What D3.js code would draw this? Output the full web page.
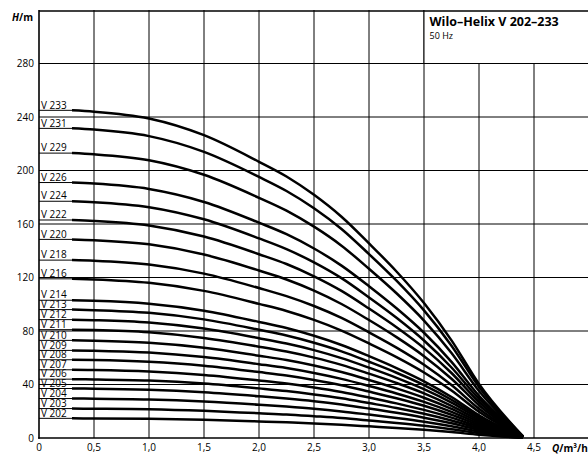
<!DOCTYPE html>
<html>
<head>
<meta charset="utf-8">
<script src="https://cdn.jsdelivr.net/npm/d3@7"></script>
<style>
  html, body { margin: 0; padding: 0; background: #fff; }
  svg { display: block; }
  text { font-family: "Open Sans", "DejaVu Sans", sans-serif; fill: #000; }
</style>
</head>
<body>
<div id="chart"></div>
<script>
// ---- data ----
const flowQ = [0.3, 0.5, 1.0, 1.5, 2.0, 2.25, 2.5, 2.75, 3.0, 3.25, 3.5, 3.75, 4.0, 4.4];

const headV233 = [245, 244.0, 238.9, 226.4, 206.5, 195.5, 181.8, 165.4, 145.5, 124.5, 100.9, 73.0, 40.4, 1.2];
const headV231 = [231.5, 230.6, 225.7, 213.9, 195.2, 184.7, 171.8, 156.3, 137.5, 117.6, 95.4, 69.0, 38.2, 1.2];
const headV229 = [213, 212.1, 207.7, 196.8, 179.6, 170.0, 158.0, 143.8, 126.5, 108.2, 87.8, 63.5, 35.1, 1.1];
const headV226 = [191, 190.2, 186.2, 176.5, 161.0, 152.4, 141.7, 128.9, 113.5, 97.0, 78.7, 56.9, 31.5, 1.0];
const headV224 = [177, 176.3, 172.6, 163.5, 149.2, 141.2, 131.3, 119.5, 105.1, 89.9, 72.9, 52.7, 29.2, 0.9];
const headV222 = [163, 162.3, 158.9, 150.6, 137.4, 130.1, 120.9, 110.0, 96.8, 82.8, 67.2, 48.6, 26.9, 0.8];
const headV220 = [148.5, 147.9, 144.8, 137.2, 125.2, 118.5, 110.2, 100.2, 88.2, 75.4, 61.2, 44.3, 24.5, 0.7];
const headV218 = [133, 132.5, 129.7, 122.9, 112.1, 106.1, 98.7, 89.8, 79.0, 67.6, 54.8, 39.6, 21.9, 0.7];
const headV216 = [119, 118.5, 116.0, 110.0, 100.3, 95.0, 88.3, 80.3, 70.7, 60.5, 49.0, 35.5, 19.6, 0.6];
const headV214 = [103, 102.6, 100.4, 95.2, 86.8, 82.2, 76.4, 69.5, 61.2, 52.3, 42.4, 30.7, 17.0, 0.5];
const headV213 = [96, 95.6, 93.6, 88.7, 80.9, 76.6, 71.2, 64.8, 57.0, 48.8, 39.6, 28.6, 15.8, 0.5];
const headV212 = [88.5, 88.1, 86.3, 81.8, 74.6, 70.6, 65.7, 59.7, 52.6, 45.0, 36.5, 26.4, 14.6, 0.4];
const headV211 = [81, 80.7, 79.0, 74.8, 68.3, 64.6, 60.1, 54.7, 48.1, 41.1, 33.4, 24.1, 13.4, 0.4];
const headV210 = [73, 72.7, 71.2, 67.5, 61.5, 58.3, 54.2, 49.3, 43.4, 37.1, 30.1, 21.8, 12.0, 0.4];
const headV209 = [65.5, 65.2, 63.9, 60.5, 55.2, 52.3, 48.6, 44.2, 38.9, 33.3, 27.0, 19.5, 10.8, 0.3];
const headV208 = [58.5, 58.3, 57.0, 54.1, 49.3, 46.7, 43.4, 39.5, 34.7, 29.7, 24.1, 17.4, 9.7, 0.3];
const headV207 = [51, 50.8, 49.7, 47.1, 43.0, 40.7, 37.8, 34.4, 30.3, 25.9, 21.0, 15.2, 8.4, 0.3];
const headV206 = [44, 43.8, 42.9, 40.7, 37.1, 35.1, 32.6, 29.7, 26.1, 22.4, 18.1, 13.1, 7.3, 0.2];
const headV205 = [37, 36.9, 36.1, 34.2, 31.2, 29.5, 27.5, 25.0, 22.0, 18.8, 15.2, 11.0, 6.1, 0.2];
const headV204 = [29.5, 29.4, 28.8, 27.3, 24.9, 23.5, 21.9, 19.9, 17.5, 15.0, 12.2, 8.8, 4.9, 0.1];
const headV203 = [22, 21.9, 21.5, 20.3, 18.5, 17.6, 16.3, 14.9, 13.1, 11.2, 9.1, 6.6, 3.6, 0.1];
const headV202 = [14.7, 14.6, 14.3, 13.6, 12.4, 11.7, 10.9, 9.9, 8.7, 7.5, 6.1, 4.4, 2.4, 0.1];

const pumpNames = ["V 233", "V 231", "V 229", "V 226", "V 224", "V 222", "V 220", "V 218", "V 216",
  "V 214", "V 213", "V 212", "V 211", "V 210", "V 209", "V 208", "V 207", "V 206", "V 205",
  "V 204", "V 203", "V 202"];
const pumpHeads = [headV233, headV231, headV229, headV226, headV224, headV222, headV220, headV218, headV216,
  headV214, headV213, headV212, headV211, headV210, headV209, headV208, headV207, headV206, headV205,
  headV204, headV203, headV202];

const xTicks = [0, 0.5, 1.0, 1.5, 2.0, 2.5, 3.0, 3.5, 4.0, 4.5];
const xTickLabels = ["0", "0,5", "1,0", "1,5", "2,0", "2,5", "3,0", "3,5", "4,0", "4,5"];
const yTicks = [0, 40, 80, 120, 160, 200, 240, 280];
const yTickLabels = ["0", "40", "80", "120", "160", "200", "240", "280"];

const titleText = "Wilo–Helix V 202–233";
const subtitleText = "50 Hz";

// ---- drawing ----
const W = 588, H = 456;
const svg = d3.select("#chart").append("svg").attr("width", W).attr("height", H);

const x = d3.scaleLinear().domain([0, 5]).range([39, 589]);
const y = d3.scaleLinear().domain([0, 320]).range([438, 10]);

const grid = svg.append("g");
grid.selectAll("line.v").data(xTicks.slice(1)).join("line")
  .attr("x1", d => x(d)).attr("x2", d => x(d))
  .attr("y1", y(320)).attr("y2", y(0))
  .attr("stroke", "#000").attr("stroke-width", 1);
grid.selectAll("line.h").data(yTicks.slice(1)).join("line")
  .attr("x1", x(0)).attr("x2", W)
  .attr("y1", d => y(d)).attr("y2", d => y(d))
  .attr("stroke", "#000").attr("stroke-width", 1);

// title box (white, covering grid)
svg.append("rect")
  .attr("x", x(3.5)).attr("y", y(320))
  .attr("width", W - x(3.5)).attr("height", y(280) - y(320))
  .attr("fill", "#fff");
svg.append("line").attr("x1", x(3.5)).attr("x2", x(3.5)).attr("y1", y(320)).attr("y2", y(280))
  .attr("stroke", "#000").attr("stroke-width", 1);
svg.append("line").attr("x1", x(3.5)).attr("x2", W).attr("y1", y(280)).attr("y2", y(280))
  .attr("stroke", "#000").attr("stroke-width", 1);
svg.append("text").attr("x", x(3.5) + 5.5).attr("y", 26)
  .attr("font-size", 12.5).attr("font-weight", "bold").text(titleText);
svg.append("text").attr("x", x(3.5) + 5.5).attr("y", 39)
  .attr("font-size", 9).text(subtitleText);

// frame: top, left axis, bottom axis
svg.append("line").attr("x1", x(0)).attr("x2", W).attr("y1", y(320) + 1).attr("y2", y(320) + 1)
  .attr("stroke", "#000").attr("stroke-width", 1.3);
svg.append("line").attr("x1", x(0)).attr("x2", x(0)).attr("y1", y(320)).attr("y2", y(0) + 0.8)
  .attr("stroke", "#000").attr("stroke-width", 1.6);
svg.append("line").attr("x1", x(0) - 0.8).attr("x2", W).attr("y1", y(0)).attr("y2", y(0))
  .attr("stroke", "#000").attr("stroke-width", 1.6);

// curves
const line = d3.line().x(d => x(d[0])).y(d => y(d[1])).curve(d3.curveMonotoneX);
const curves = svg.append("g");
pumpHeads.forEach((heads, i) => {
  const pts = flowQ.map((q, j) => [q, heads[j]]);
  curves.append("line")
    .attr("x1", x(0)).attr("x2", x(flowQ[0]))
    .attr("y1", y(heads[0])).attr("y2", y(heads[0]))
    .attr("stroke", "#000").attr("stroke-width", 1);
  curves.append("path").datum(pts)
    .attr("d", line)
    .attr("fill", "none").attr("stroke", "#000").attr("stroke-width", 2.5)
    .attr("stroke-linejoin", "round");
  curves.append("text")
    .attr("x", x(0) + 2).attr("y", y(heads[0]) - 1.8)
    .attr("font-size", 10).text(pumpNames[i]);
});

// tick labels
svg.append("g").selectAll("text").data(yTicks).join("text")
  .attr("x", 34).attr("y", d => y(d) + 3.6)
  .attr("text-anchor", "end").attr("font-size", 10)
  .text((d, i) => yTickLabels[i]);
svg.append("g").selectAll("text").data(xTicks).join("text")
  .attr("x", d => x(d)).attr("y", 451)
  .attr("text-anchor", "middle").attr("font-size", 10)
  .text((d, i) => xTickLabels[i]);

// axis titles
const ht = svg.append("text").attr("x", 33).attr("y", 21).attr("text-anchor", "end")
  .attr("font-size", 10).attr("font-weight", "bold");
ht.append("tspan").attr("font-style", "italic").text("H");
ht.append("tspan").text("/m");
const qt = svg.append("text").attr("x", 552).attr("y", 452)
  .attr("font-size", 10).attr("font-weight", "bold");
qt.append("tspan").attr("font-style", "italic").text("Q");
qt.append("tspan").text("/m³/h");
</script>
</body>
</html>
